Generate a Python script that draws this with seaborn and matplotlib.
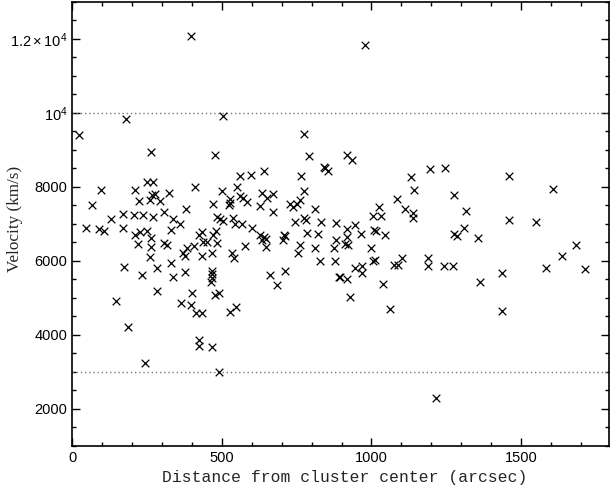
import matplotlib
matplotlib.use("Agg")
import matplotlib.pyplot as plt
from matplotlib.ticker import MultipleLocator, FixedLocator, FixedFormatter
import pandas as pd
import seaborn as sns

# galaxy distance from the cluster centre (arcsec) and radial velocity (km/s)
distance = [
    23, 179, 505, 262, 477, 773, 790, 840, 846, 855, 249, 271, 561, 598, 641,
    764, 776, 95, 210, 222, 260, 266, 277, 293, 322, 305, 338, 360, 379, 410,
    502, 470, 528, 528, 523, 550, 561, 572, 583, 537, 634, 652, 670, 628, 672,
    727, 739, 751, 760, 812, 773, 780, 745, 832, 882, 784, 820, 707, 711, 704,
    762, 812, 882, 876, 45, 65, 129, 89, 107, 170, 170, 206, 235, 210, 226,
    251, 218, 262, 262, 269, 305, 316, 330, 383, 407, 425, 433, 436, 450, 470,
    481, 485, 484, 495, 504, 543, 567, 600, 578, 626, 641, 634, 648, 647,
    918, 935, 1133, 1197, 1247, 1458, 1606, 1141, 1277, 1085, 1024, 1004,
    1032, 1113, 1139, 1139, 1317, 918, 946, 918, 912, 920, 966, 1010, 1016,
    1046, 998, 1459, 1551, 1275, 1285, 1308, 1356, 1682,
    173, 234, 261, 282, 282, 146, 185, 243, 329, 335, 371, 377, 377, 433, 467,
    468, 468, 466, 463, 399, 364, 397, 414, 433, 477, 492, 528, 547, 533, 539,
    425, 422, 468, 492, 661, 684, 712, 756, 829, 879, 890,
    895, 918, 927, 946, 970, 970, 1005, 1013, 1037, 1061, 1076, 1087, 1102,
    1188, 1188, 1241, 1271, 1364, 1437, 1437, 1585, 1637, 1715,
    397, 980, 1217,
]
velocity = [
    9405, 9838, 9911, 8938, 8849, 9432, 8830, 8540, 8510, 8430, 8127, 8127,
    8281, 8316, 8432, 8289, 7892, 7903, 7903, 7622, 7641, 7780, 7810, 7614,
    7838, 7316, 7135, 6984, 7397, 7984, 7892, 7532, 7659, 7568, 7497, 7984,
    7749, 7686, 7578, 7162, 7838, 7703, 7803, 7478, 7316, 7532, 7459, 7532,
    7641, 7389, 7146, 7100, 7054, 7054, 7027, 6757, 6722, 6700, 6672, 6559,
    6416, 6335, 6559, 6351, 6892, 7505, 7119, 6849, 6811, 7254, 6892, 7235,
    7235, 6695, 6784, 6811, 6443, 6622, 6378, 7173, 6486, 6416, 6830, 6351,
    6405, 6695, 6784, 6497, 6497, 6695, 6803, 6486, 7173, 7130, 7080, 6984,
    6984, 6892, 6397, 6695, 6649, 6559, 6578, 6378,
    8849, 8722, 8270, 8470, 8505, 8289, 7938, 7903, 7784, 7668, 7451, 7200,
    7216, 7389, 7297, 7146, 7343, 6849, 6965, 6632, 6460, 6430, 6714, 6820,
    6800, 6703, 6351, 7100, 7038, 6720, 6680, 6876, 6622, 6424,
    5838, 5622, 6092, 5803, 5189, 4919, 4200, 3227, 5930, 5568, 6200, 6135,
    5703, 6135, 6200, 5722, 5632, 5524, 5416, 5135, 4849, 4803, 4595, 4595,
    5073, 5119, 4605, 4757, 6200, 6065, 3857, 3695, 3659, 3000, 5622, 5343,
    5714, 6200, 5992, 5992, 5568,
    5550, 5505, 5011, 5795, 5857, 5659, 6000, 6019, 5362, 4686, 5884, 5884,
    6081, 6065, 5857, 5857, 5857, 5432, 5676, 4649, 5811, 6127, 5768,
    12080, 11820, 2290,
]

cut_high = 10000
cut_low = 3000

y_ticks = [2000, 4000, 6000, 8000, 10000, 12000]
y_tick_labels = ["2000", "4000", "6000", "8000", r"$10^4$", r"$1.2\times10^4$"]

df = pd.DataFrame({"distance": distance, "velocity": velocity})

sns.set_theme(style="ticks")
plt.rcParams["font.family"] = ["Liberation Sans", "DejaVu Sans"]
plt.rcParams["mathtext.fontset"] = "custom"
plt.rcParams["mathtext.rm"] = "Liberation Sans"
plt.rcParams["mathtext.it"] = "Liberation Sans"

fig, ax = plt.subplots(figsize=(6.1, 4.9), dpi=100)
fig.subplots_adjust(left=0.1185, right=0.9989, bottom=0.0904, top=0.9965)

# cuts used for membership
for v in (cut_high, cut_low):
    ax.axhline(v, color="#777777", lw=1.0, ls=(0, (1, 2)), zorder=1)

sns.scatterplot(data=df, x="distance", y="velocity", marker="x",
                color="black", s=30, linewidth=0.9, ax=ax, zorder=3,
                legend=False)

ax.set_xlim(0, 1795)
ax.set_ylim(1000, 13000)

ax.xaxis.set_major_locator(MultipleLocator(500))
ax.xaxis.set_minor_locator(MultipleLocator(100))
ax.yaxis.set_major_locator(FixedLocator(y_ticks))
ax.yaxis.set_major_formatter(FixedFormatter(y_tick_labels))
ax.yaxis.set_minor_locator(MultipleLocator(500))

ax.tick_params(which="both", direction="in", top=True, right=True,
               colors="black", labelsize=10.5, width=1.0)
ax.tick_params(which="major", length=6)
ax.tick_params(which="minor", length=3)
for sp in ax.spines.values():
    sp.set_linewidth(1.2)
    sp.set_color("black")

ax.set_xlabel("Distance from cluster center (arcsec)",
              family="Liberation Mono", fontsize=11.8)
ax.set_ylabel("Velocity (km/s)", family="Liberation Serif", fontsize=12.3)
ax.xaxis.set_label_coords(0.508, -0.055)
ax.yaxis.set_label_coords(-0.092, 0.511)

fig.savefig("out.png", dpi=100)
